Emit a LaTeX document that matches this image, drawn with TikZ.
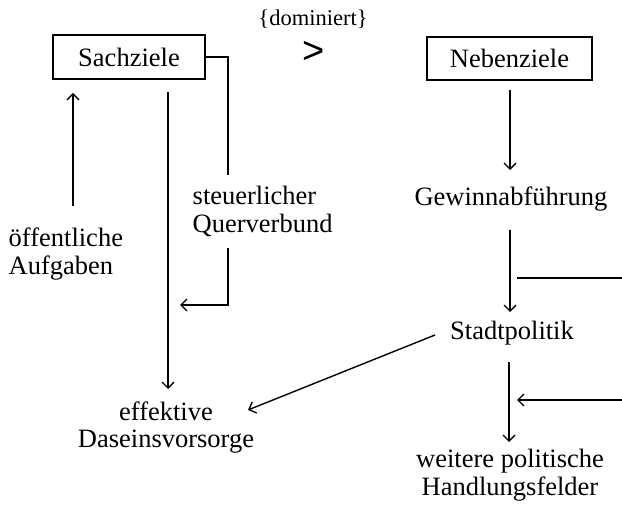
\documentclass[tikz,border=0pt]{standalone}
\usepackage{fontspec}
\setmainfont{Liberation Serif}
\newfontfamily\gtfont{Liberation Sans}
\usetikzlibrary{arrows.meta}
\begin{document}
\begin{tikzpicture}[x=1pt,y=-1pt,
  line width=1.4pt,
  every node/.style={inner sep=0pt,font=\fontsize{26.5}{28}\selectfont},
  box/.style={draw,line width=1.4pt,inner sep=0pt},
  lbl/.style={anchor=base},
  arr/.style={-{Straight Barb[length=6pt,width=12pt,line width=1.4pt]}}]
\useasboundingbox (0,0) rectangle (622,505);
% top
\node[anchor=base,font=\fontsize{22.5}{24}\selectfont] (dom) at (313,26) {\{dominiert\}};
\node[font=\gtfont\fontsize{38}{40}\selectfont] (gt) at (314,52) {>};
\node[box,minimum width=152pt,minimum height=44pt] (sach) at (129,57) {Sachziele};
\node[box,minimum width=165pt,minimum height=43pt] (neben) at (509.5,58.5) {Nebenziele};
% texts (base anchor = baseline of the last line)
\node[lbl,align=left,anchor=base west] (oeff) at (8,275) {öffentliche\\Aufgaben};
\node[lbl,align=left,anchor=base west] (steuer) at (192,233) {steuerlicher\\Querverbund};
\node[lbl,align=center] (eff) at (166,448) {effektive\\Daseinsvorsorge};
\node[lbl] (gew) at (511,206) {Gewinnabführung};
\node[lbl] (stadt) at (512,340) {Stadtpolitik};
\node[lbl,align=center] (weit) at (510,495) {weitere politische\\Handlungsfelder};
% coordinates
\coordinate (q1) at (228,175);
\coordinate (q2) at (228,248);
\coordinate (q3) at (180,305);
\coordinate (s1) at (168,92);
\coordinate (s2) at (168,389);
\coordinate (o1) at (73,206);
\coordinate (o2) at (73,93);
\coordinate (n1) at (510,90);
\coordinate (n2) at (510,170);
\coordinate (g1) at (510,230);
\coordinate (g2) at (510,312);
\coordinate (h1) at (517,278);
\coordinate (h2) at (622,278);
\coordinate (t1) at (435,335);
\coordinate (t2) at (248,410);
\coordinate (w1) at (509,362);
\coordinate (w2) at (509,442);
\coordinate (r1) at (622,400);
\coordinate (r2) at (517,400);
% connectors
\draw (sach.east) -| (q1);
\draw[arr] (q2) |- (q3);
\draw[arr] (s1) -- (s2);
\draw[arr] (o1) -- (o2);
\draw[arr] (n1) -- (n2);
\draw[arr] (g1) -- (g2);
\draw (h1) -- (h2);
\draw[arr] (t1) -- (t2);
\draw[arr] (w1) -- (w2);
\draw[arr] (r1) -- (r2);
\end{tikzpicture}
\end{document}
